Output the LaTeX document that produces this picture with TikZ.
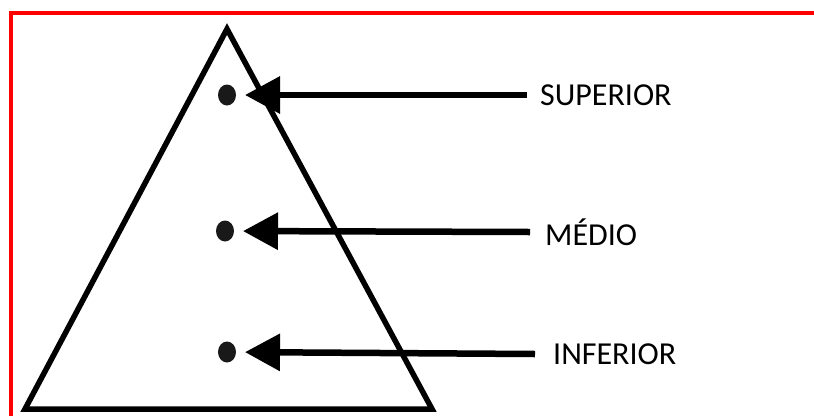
\documentclass[tikz,border=0pt]{standalone}
\usepackage{fontspec}
\setmainfont{Carlito}
\usetikzlibrary{arrows.meta,shapes.geometric}
\begin{document}
\begin{tikzpicture}[x=1pt,y=-1pt,
  frame/.style={red,line width=3.5pt},
  tri/.style={line width=5.5pt,line join=miter},
  dot/.style={ellipse,fill=black!90,minimum width=18pt,minimum height=21pt,inner sep=0pt},
  pointer/.style={line width=6.5pt,-{Triangle[length=35pt,width=36pt]},shorten >=18pt},
  lbl/.style={anchor=west,font=\fontsize{32}{34}\selectfont,inner sep=0pt}]
\useasboundingbox (0,0) rectangle (814,416);
\draw[frame] (11,416) -- (11,13) -- (814,13);
\draw[tri] (227,29) -- (25,409) -- (432,409) -- cycle;
\node[dot] (d1) at (227,95) {};
\node[dot] (d2) at (225,231) {};
\node[dot] (d3) at (227,352) {};
\coordinate (e1) at (527,95);
\coordinate (e2) at (530,232);
\coordinate (e3) at (535,354);
\node[lbl] (l1) at (540,95) {SUPERIOR};
\node[lbl] (l2) at (545,232) {MÉDIO};
\node[lbl] (l3) at (553,354) {INFERIOR};
\draw[pointer] (e1) -- (d1.center);
\draw[pointer] (e2) -- (d2.center);
\draw[pointer] (e3) -- (d3.center);
\end{tikzpicture}
\end{document}
